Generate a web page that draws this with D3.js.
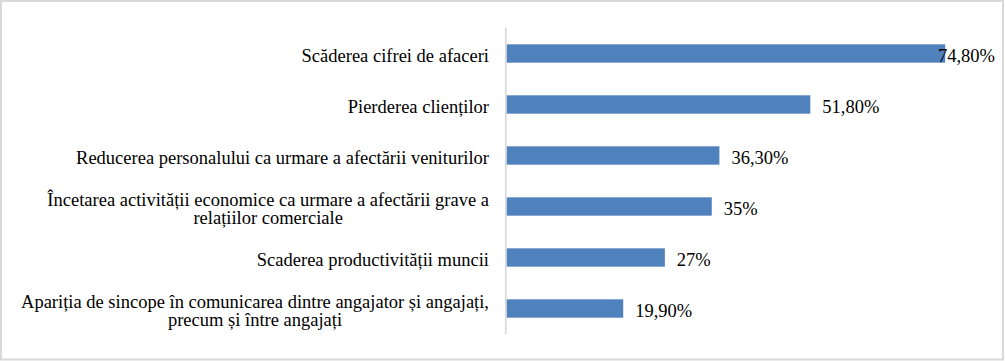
<!DOCTYPE html>
<html lang="ro">
<head>
<meta charset="utf-8">
<script src="https://cdn.jsdelivr.net/npm/d3@7"></script>
<style>
  body { margin: 0; background: #fff; }
</style>
</head>
<body>
<svg id="chart" width="1005" height="361"></svg>

<script>
  // categories, top to bottom (lines of each label)
  var categories = [
    ["Scăderea cifrei de afaceri"],
    ["Pierderea clienților"],
    ["Reducerea personalului ca urmare a afectării veniturilor"],
    ["Încetarea activității economice ca urmare a afectării grave a", "relațiilor comerciale"],
    ["Scaderea productivității muncii"],
    ["Apariția de sincope în comunicarea dintre angajator și angajați,", "precum și între angajați"]
  ]
  var values = [74.8, 51.8, 36.3, 35, 27, 19.9]
  var valueLabels = ["74,80%", "51,80%", "36,30%", "35%", "27%", "19,90%"]

  var svg = d3.select("#chart")
  var fontSize = 18.5
  var fontFamily = "'Liberation Serif', 'DejaVu Serif', serif"

  // outer frame
  svg.append("rect")
     .attr("x", 1).attr("y", 1)
     .attr("width", 1002).attr("height", 358.5)
     .attr("fill", "#fff")
     .attr("stroke", "#d9d9d9")
     .attr("stroke-width", 2)

  var x0 = 506.5
  var x = d3.scaleLinear().domain([0, 80]).range([x0, x0 + 80 * 5.865])
  var y = d3.scaleBand()
            .domain(d3.range(categories.length))
            .range([28, 334])
            .paddingInner(0.64)
            .paddingOuter(0.32)

  // bars
  svg.selectAll("rect.bar")
     .data(values)
     .enter()
     .append("rect")
     .attr("class", "bar")
     .attr("x", x(0))
     .attr("y", function(d, i) { return y(i) })
     .attr("width", function(d) { return x(d) - x(0) })
     .attr("height", y.bandwidth())
     .attr("fill", "#4f81bd")

  // vertical axis line
  svg.append("line")
     .attr("x1", 505.8).attr("x2", 505.8)
     .attr("y1", 28).attr("y2", 334)
     .attr("stroke", "#d9d9d9")
     .attr("stroke-width", 1.7)

  // category labels, right aligned block, lines centered in it
  var lineH = 18
  var labelRight = 489
  categories.forEach(function(lines, i) {
    var cy = y(i) + y.bandwidth() / 2
    var g = svg.append("g")
    var texts = lines.map(function(s, j) {
      return g.append("text")
              .attr("y", cy + 8 + (j - (lines.length - 1) / 2) * lineH)
              .attr("font-family", fontFamily)
              .attr("font-size", fontSize)
              .attr("fill", "#000")
              .text(s)
    })
    var widths = texts.map(function(t) { return t.node().getComputedTextLength() })
    var maxW = d3.max(widths)
    var mid = labelRight - maxW / 2
    texts.forEach(function(t) { t.attr("x", mid).attr("text-anchor", "middle") })
  })

  // value labels
  var rightLimit = 995
  svg.selectAll("text.val")
     .data(values)
     .enter()
     .append("text")
     .attr("class", "val")
     .attr("font-family", fontFamily)
     .attr("font-size", fontSize)
     .attr("fill", "#000")
     .attr("y", function(d, i) { return y(i) + y.bandwidth() / 2 + 8.5 })
     .text(function(d, i) { return valueLabels[i] })
     .attr("x", function(d) {
        var w = this.getComputedTextLength()
        return Math.min(x(d) + 12, rightLimit - w)
     })
</script>
</body>
</html>
